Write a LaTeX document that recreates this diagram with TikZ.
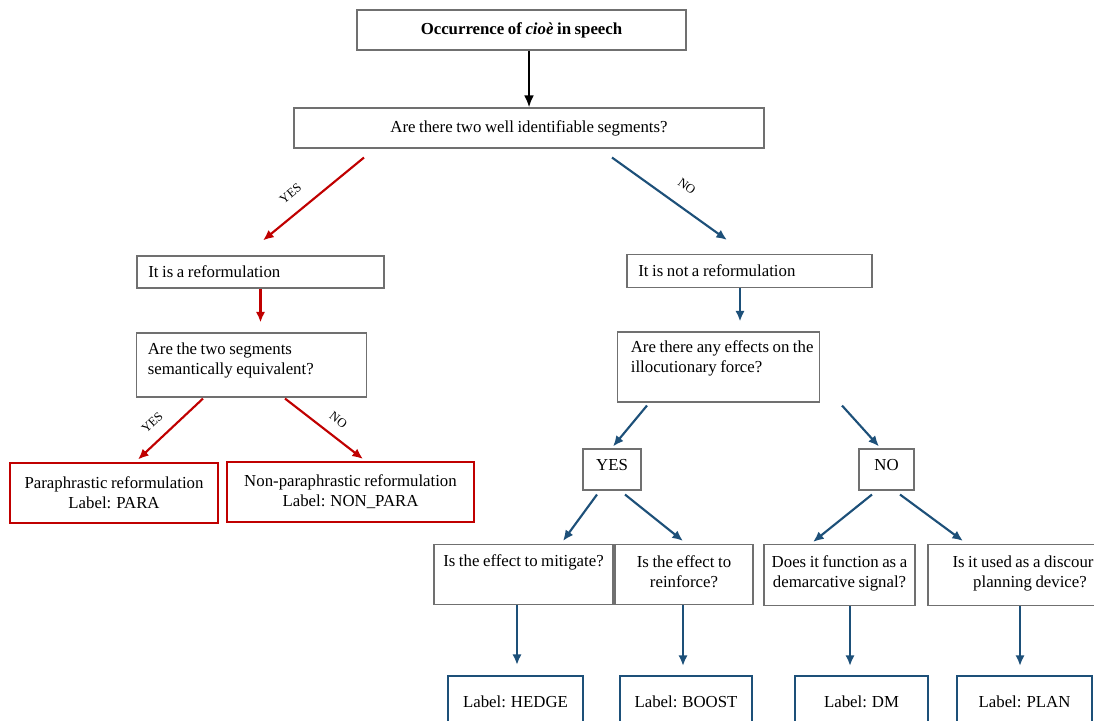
\documentclass[tikz,border=0pt]{standalone}
\usepackage{fontspec}
\setmainfont[WordSpace=0.85]{Liberation Serif}
\usetikzlibrary{arrows.meta,calc}
\definecolor{decred}{HTML}{C00000}
\definecolor{decblue}{HTML}{1D5079}
\definecolor{boxgray}{HTML}{707070}
\newcommand\naturalspaces{\spaceskip=0pt\relax\xspaceskip=0pt\relax}
\begin{document}
\begin{tikzpicture}[x=0.75pt,y=-0.75pt,
  font=\fontsize{12.6}{15}\selectfont,
  box/.style={draw=boxgray,line width=0.8pt,inner sep=0pt,align=center},
  qbox/.style={draw=boxgray,line width=0.8pt,inner xsep=8.5pt,inner ysep=0pt,align=left},
  redbox/.style={draw=decred,line width=1.5pt,inner sep=0pt,align=center},
  bluebox/.style={draw=decblue,line width=1.6pt,inner sep=0pt,align=center},
  blackarrow/.style={black,line width=2.2pt,-{Latex[length=9pt,width=7.5pt]}},
  redarrow/.style={decred,line width=1.6pt,-{Latex[length=8pt,width=7pt]}},
  bluearrow/.style={decblue,line width=1.6pt,-{Latex[length=8pt,width=7pt]}},
  answer/.style={font=\fontsize{9.5}{10}\selectfont,text=black,inner sep=0pt,sloped}]

\useasboundingbox (0,0) rectangle (1094,720);
\clip (0,0) rectangle (1094,720);

% top of the tree
\node[box,minimum width=246.75pt,minimum height=30pt] (occ) at (521.5,30)
  {\textbf{Occurrence of \textit{cioè} in speech}};
\node[box,minimum width=352.5pt,minimum height=30pt] (seg) at (529,128)
  {Are there two well identifiable segments?};
\draw[blackarrow] (occ.south -| seg.north) -- (seg.north);

% reformulation branch
\node[qbox,text width=168.25pt,minimum height=24pt] (refo) at (260.5,272)
  {\naturalspaces It is a reformulation};
\node[qbox,text width=155.5pt,minimum height=48pt] (equiv) at (251.5,365)
  {\naturalspaces Are the two segments\\semantically equivalent?\\[-6pt]\mbox{}};
\node[redbox,minimum width=156pt,minimum height=45pt] (para) at (114,492.5)
  {Paraphrastic reformulation\\Label: PARA};
\node[redbox,minimum width=185.25pt,minimum height=45pt] (nonpara) at (350.5,492)
  {Non-paraphrastic reformulation\\Label: NON\_PARA};

\draw[redarrow] ($(seg.south)+(-165,9)$) -- ($(refo.north)+(2.5,-15)$)
  node[answer,pos=0.61,above=10pt] {YES};
\draw[redarrow] (refo.south) -- ($(refo.south |- equiv.north)+(0,-10)$);
\draw[redarrow] ($(equiv.south)+(-48.5,1)$) -- ($(para.north)+(24,-2)$)
  node[answer,pos=0.6,above=9pt] {YES};
\draw[redarrow] ($(equiv.south)+(33.5,1)$) -- ($(nonpara.north)+(12.5,-2)$)
  node[answer,pos=0.56,above=8pt] {NO};

% non-reformulation branch
\node[qbox,text width=166.75pt,minimum height=24.75pt] (notrefo) at (749.5,271)
  {\naturalspaces It is not a reformulation};
\node[qbox,inner xsep=10pt,text width=131.5pt,minimum height=52.5pt] (force) at (718.5,367)
  {\naturalspaces\mbox{Are there any effects on the}\\illocutionary force?\\ \mbox{}};
\node[box,minimum width=43.5pt,minimum height=30.75pt] (yes) at (612,469.5) {YES\\[-8.25pt]\mbox{}};
\node[box,minimum width=41.25pt,minimum height=30.75pt] (no) at (886.5,469.5) {NO\\[-8.25pt]\mbox{}};

\draw[bluearrow] ($(seg.south)+(83,9)$) -- ($(notrefo.north)+(-22.5,-14)$)
  node[answer,pos=0.55,above=11pt] {NO};
\draw[bluearrow] ($(notrefo.south)+(-9.5,0)$) -- ($(notrefo.south |- force.north)+(-9.5,-10)$);
\draw[bluearrow] ($(force.south)+(-71.5,3)$) -- ($(yes.north)+(1,-2)$);
\draw[bluearrow] ($(force.south)+(123.5,3)$) -- ($(no.north)+(-7.5,-2)$);

% questions on the effect
\node[box,minimum width=134.25pt,minimum height=45pt] (mitig) at (523.5,574.5)
  {Is the effect to mitigate?\\[6pt]\mbox{}};
\node[box,minimum width=103.5pt,minimum height=45pt] (reinf) at (684,574.5)
  {Is the effect to\\reinforce?\\[-10pt]\mbox{}};
\node[box,minimum width=113.25pt,minimum height=45.75pt] (demarc) at (839.5,575)
  {Does it function as a\\demarcative signal?\\[-10pt]\mbox{}};
\node[box,minimum width=153pt,minimum height=45.75pt] (discplan) at (1030,575)
  {Is it used as a discourse\\planning device?\\[-10pt]\mbox{}};

\draw[bluearrow] ($(yes.south)+(-15,4)$) -- ($(mitig.north)+(39.5,-3)$);
\draw[bluearrow] ($(yes.south)+(13,4)$) -- ($(reinf.north)+(-1,-3)$);
\draw[bluearrow] ($(no.south)+(-14.5,4)$) -- ($(demarc.north)+(-26.5,-2)$);
\draw[bluearrow] ($(no.south)+(13.5,4)$) -- ($(discplan.north)+(-67,-3)$);

% final labels
\node[bluebox,minimum width=101.25pt,minimum height=39pt] (hedge) at (515.5,702) {Label: HEDGE};
\node[bluebox,minimum width=99pt,minimum height=39pt] (boost) at (686,702) {Label: BOOST};
\node[bluebox,minimum width=99.75pt,minimum height=39pt] (dm) at (861.5,702) {Label: DM};
\node[bluebox,minimum width=101.25pt,minimum height=39pt] (plan) at (1024.5,702) {Label: PLAN};

\draw[bluearrow] ($(mitig.south)+(-6.5,0)$) -- ($(hedge.north)+(1.5,-10)$);
\draw[bluearrow] ($(reinf.south)+(-1,0)$) -- ($(boost.north)+(-3,-9)$);
\draw[bluearrow] ($(demarc.south)+(10.5,0)$) -- ($(dm.north)+(-11.5,-9)$);
\draw[bluearrow] ($(discplan.south)+(-10,0)$) -- ($(plan.north)+(-4.5,-9)$);
\end{tikzpicture}
\end{document}
